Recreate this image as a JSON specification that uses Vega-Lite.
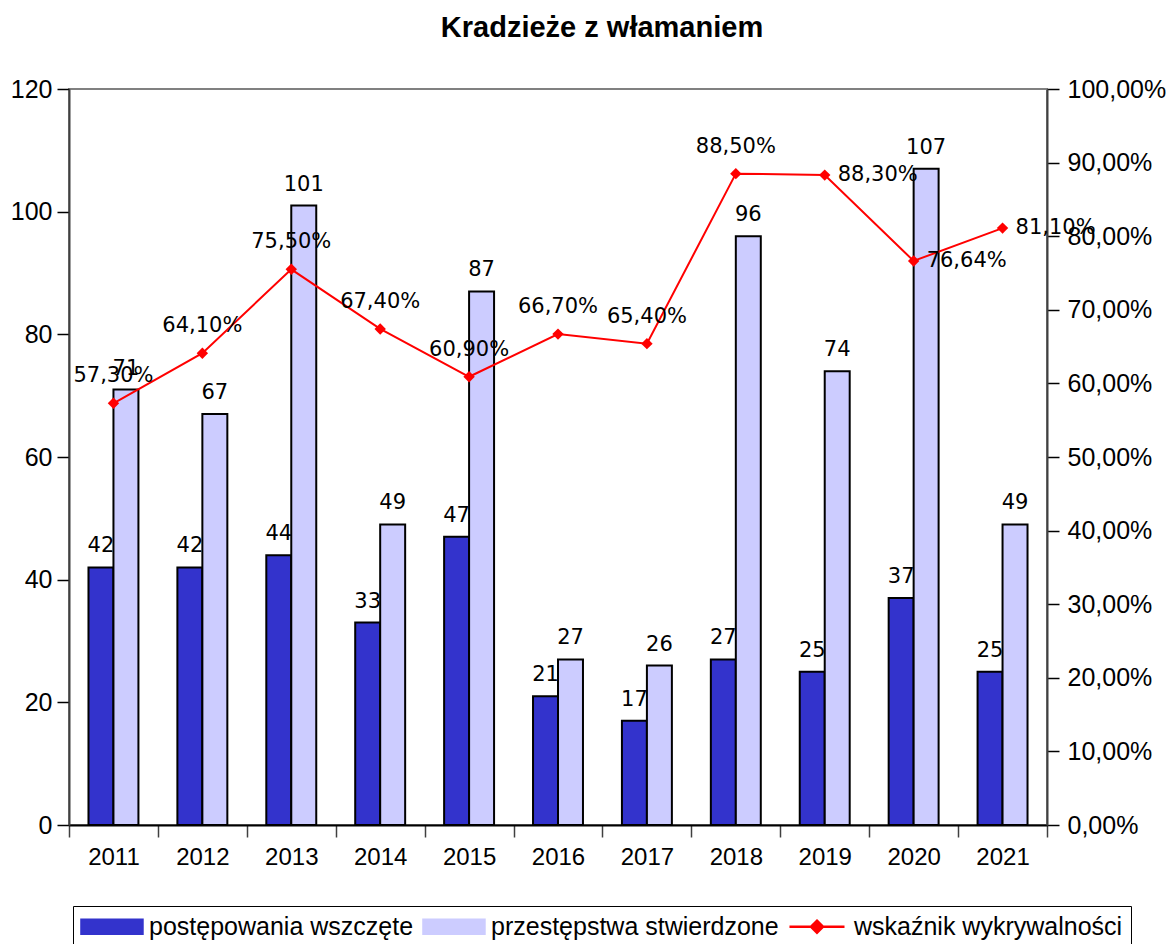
{
  "$schema": "https://vega.github.io/schema/vega-lite/v6.json",
  "width": 978,
  "height": 736,
  "autosize": {"type": "none"},
  "padding": {"left": 69, "top": 89, "right": 121, "bottom": 119},
  "config": {
    "locale": {"number": {"decimal": ",", "thousands": " ", "grouping": [3], "currency": ["", " zł"]}},
    "view": {"stroke": "#808080", "strokeWidth": 2},
    "font": "Liberation Sans"
  },
  "title": {
    "text": "Kradzieże z włamaniem",
    "font": "Liberation Sans",
    "fontSize": 29,
    "fontWeight": "bold",
    "color": "black",
    "anchor": "middle",
    "dx": 44,
    "offset": 34
  },
  "data": {
    "values": [
      {"year": "2011", "wszczete": 42, "stwierdzone": 71, "wskaznik": 0.573},
      {"year": "2012", "wszczete": 42, "stwierdzone": 67, "wskaznik": 0.641},
      {"year": "2013", "wszczete": 44, "stwierdzone": 101, "wskaznik": 0.755},
      {"year": "2014", "wszczete": 33, "stwierdzone": 49, "wskaznik": 0.674},
      {"year": "2015", "wszczete": 47, "stwierdzone": 87, "wskaznik": 0.609},
      {"year": "2016", "wszczete": 21, "stwierdzone": 27, "wskaznik": 0.667},
      {"year": "2017", "wszczete": 17, "stwierdzone": 26, "wskaznik": 0.654},
      {"year": "2018", "wszczete": 27, "stwierdzone": 96, "wskaznik": 0.885},
      {"year": "2019", "wszczete": 25, "stwierdzone": 74, "wskaznik": 0.883},
      {"year": "2020", "wszczete": 37, "stwierdzone": 107, "wskaznik": 0.7664},
      {"year": "2021", "wszczete": 25, "stwierdzone": 49, "wskaznik": 0.811}
    ]
  },
  "encoding": {
    "x": {
      "field": "year",
      "type": "nominal",
      "scale": {"paddingInner": 0, "paddingOuter": 0},
      "axis": {
        "title": null,
        "labelAngle": 0,
        "tickBand": "extent",
        "labelFont": "Liberation Sans",
        "labelFontSize": 24,
        "labelColor": "black",
        "labelPadding": 8,
        "tickSize": 12,
        "tickColor": "#404040",
        "tickWidth": 1.5,
        "domainColor": "black",
        "domainWidth": 2,
        "grid": false,
        "encode": {"ticks": {"update": {"y": {"value": -11}, "y2": {"value": 11}}}}
      }
    }
  },
  "layer": [
    {
      "transform": [{"fold": ["wszczete", "stwierdzone"], "as": ["key", "value"]}],
      "encoding": {
        "xOffset": {
          "field": "key",
          "type": "nominal",
          "sort": ["wszczete", "stwierdzone"],
          "scale": {"domain": ["wszczete", "stwierdzone"], "paddingInner": 0, "paddingOuter": 0.78}
        },
        "y": {
          "field": "value",
          "type": "quantitative",
          "scale": {"domain": [0, 120], "nice": false},
          "axis": {
            "title": null,
            "values": [0, 20, 40, 60, 80, 100, 120],
            "labelFont": "Liberation Sans",
            "labelFontSize": 25,
            "labelColor": "black",
            "labelPadding": 5,
            "tickSize": 12,
            "tickColor": "black",
            "tickWidth": 1.5,
            "domainColor": "#404040",
            "domainWidth": 2,
            "grid": false,
            "encode": {"ticks": {"update": {"x": {"value": 11}, "x2": {"value": -12}}}}
          }
        }
      },
      "layer": [
        {
          "mark": {"type": "bar", "stroke": "black", "strokeWidth": 2},
          "encoding": {
            "color": {
              "field": "key",
              "type": "nominal",
              "scale": {"domain": ["wszczete", "stwierdzone", "wskaznik"], "range": ["#3333CC", "#CCCCFF", "#FF0000"]},
              "legend": {
                "orient": "none",
                "legendX": 4,
                "legendY": 817,
                "direction": "horizontal",
                "title": null,
                "labelFont": "Liberation Sans",
                "labelFontSize": 25,
                "labelColor": "black",
                "labelLimit": 500,
                "labelOffset": 43,
                "columnPadding": 5,
                "padding": 8,
                "strokeColor": "black",
                "symbolSize": 256,
                "labelExpr": "datum.value === 'wszczete' ? 'postępowania wszczęte' : datum.value === 'stwierdzone' ? 'przestępstwa stwierdzone' : 'wskaźnik wykrywalności'",
                "encode": {
                  "symbols": {
                    "update": {
                      "shape": {"signal": "datum.value === 'wskaznik' ? 'M-1.13,0H5.75M2.31,-0.75L3.06,0L2.31,0.75L1.56,0Z' : 'M-1.565,-0.95H6.185V0.95H-1.565Z'"},
                      "strokeWidth": {"signal": "datum.value === 'wskaznik' ? 2.5 : 1.5"}
                    }
                  }
                }
              }
            }
          }
        },
        {
          "mark": {"type": "text", "font": "DejaVu Sans", "fontSize": 21, "color": "black", "baseline": "middle", "dy": -21},
          "encoding": {"text": {"field": "value", "type": "quantitative"}}
        }
      ]
    },
    {
      "encoding": {
        "y": {
          "field": "wskaznik",
          "type": "quantitative",
          "scale": {"domain": [0, 1], "nice": false},
          "axis": {
            "orient": "right",
            "title": null,
            "format": ".2%",
            "values": [0, 0.1, 0.2, 0.3, 0.4, 0.5, 0.6, 0.7, 0.8, 0.9, 1],
            "labelFont": "Liberation Sans",
            "labelFontSize": 25,
            "labelColor": "black",
            "labelPadding": 8,
            "tickSize": 12,
            "tickColor": "black",
            "tickWidth": 1.5,
            "domainColor": "#404040",
            "domainWidth": 2,
            "grid": false,
            "encode": {"ticks": {"update": {"x": {"value": -11}, "x2": {"value": 11}}}}
          }
        }
      },
      "layer": [
        {
          "mark": {"type": "line", "strokeWidth": 2, "point": {"shape": "diamond", "size": 130, "filled": true, "color": "#FF0000"}},
          "encoding": {
            "color": {
              "datum": "wskaznik",
              "type": "nominal",
              "legend": {
                "orient": "none",
                "legendX": 4,
                "legendY": 817,
                "direction": "horizontal",
                "title": null,
                "labelFont": "Liberation Sans",
                "labelFontSize": 25,
                "labelColor": "black",
                "labelLimit": 500,
                "labelOffset": 43,
                "columnPadding": 5,
                "padding": 8,
                "strokeColor": "black",
                "symbolSize": 256,
                "labelExpr": "datum.value === 'wszczete' ? 'postępowania wszczęte' : datum.value === 'stwierdzone' ? 'przestępstwa stwierdzone' : 'wskaźnik wykrywalności'",
                "encode": {
                  "symbols": {
                    "update": {
                      "shape": {"signal": "datum.value === 'wskaznik' ? 'M-1.13,0H5.75M2.31,-0.75L3.06,0L2.31,0.75L1.56,0Z' : 'M-1.565,-0.95H6.185V0.95H-1.565Z'"},
                      "strokeWidth": {"signal": "datum.value === 'wskaznik' ? 2.5 : 1.5"}
                    }
                  }
                }
              }
            }
          }
        },
        {
          "transform": [{"filter": {"not": {"field": "year", "oneOf": ["2019", "2020", "2021"]}}}],
          "mark": {"type": "text", "font": "DejaVu Sans", "fontSize": 21, "color": "black", "baseline": "middle", "dy": -27},
          "encoding": {"text": {"field": "wskaznik", "type": "quantitative", "format": ".2%"}}
        },
        {
          "transform": [{"filter": {"field": "year", "oneOf": ["2019", "2020", "2021"]}}],
          "mark": {"type": "text", "font": "DejaVu Sans", "fontSize": 21, "color": "black", "baseline": "middle", "align": "left", "dx": 13},
          "encoding": {"text": {"field": "wskaznik", "type": "quantitative", "format": ".2%"}}
        }
      ]
    }
  ],
  "resolve": {"scale": {"y": "independent"}}
}
